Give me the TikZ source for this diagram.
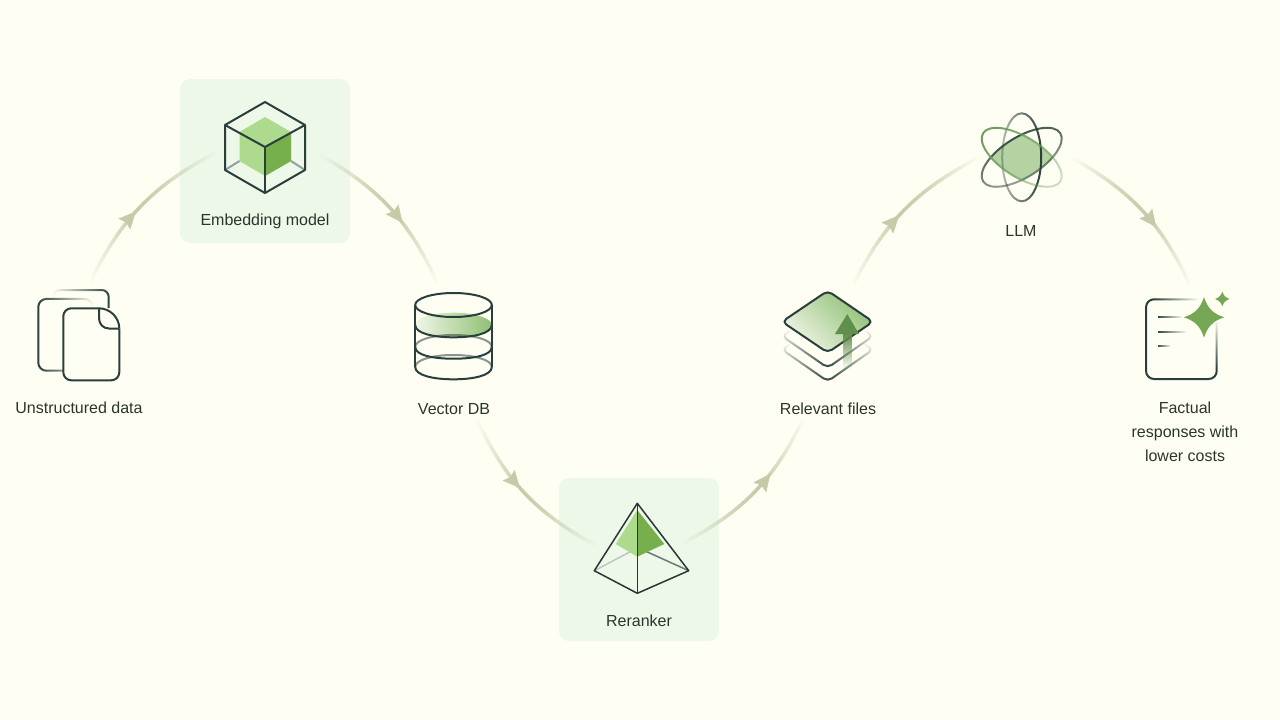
\documentclass[tikz,border=0pt]{standalone}
\usepackage{fontspec}
\setmainfont{Liberation Sans}
\usetikzlibrary{arrows.meta,fadings,decorations.markings}
\definecolor{Paper}{HTML}{FEFFF2}
\definecolor{CardC}{HTML}{EDF8E9}
\definecolor{Ink}{HTML}{2A352C}
\definecolor{LineC}{HTML}{2A3E3C}
\definecolor{FlowC}{HTML}{C6CAA8}
\definecolor{LeafL}{HTML}{ADDA8C}
\definecolor{LeafD}{HTML}{76AF4C}
\definecolor{LensC}{HTML}{B5D3A2}
\definecolor{OrbitC}{HTML}{6F9F5E}
\definecolor{PaleC}{HTML}{F1F6E8}
\definecolor{MossC}{HTML}{90C074}
\definecolor{BoltC}{HTML}{5F8F4C}
\definecolor{StarC}{HTML}{76A757}
\pgfdeclarehorizontalshading{flowpeakL}{100bp}{color(0bp)=(black); color(25bp)=(black); color(43bp)=(white); color(54bp)=(white!80!black); color(75bp)=(black); color(100bp)=(black)}
\pgfdeclarehorizontalshading{flowpeakR}{100bp}{color(0bp)=(black); color(25bp)=(black); color(46bp)=(white!80!black); color(57bp)=(white); color(75bp)=(black); color(100bp)=(black)}
\pgfdeclareverticalshading{docramp}{100bp}{color(0bp)=(white); color(54bp)=(white); color(76bp)=(black); color(100bp)=(black)}
\tikzfading[name=flowfadeL, shade, shading=flowpeakL]
\tikzfading[name=flowfadeR, shade, shading=flowpeakR]
\tikzfading[name=tailE, left color=transparent!0, middle color=transparent!0, right color=transparent!100]
\tikzfading[name=softW, left color=transparent!65, right color=transparent!0]
\tikzfading[name=gapM, left color=transparent!45, middle color=transparent!100, right color=transparent!45]
\tikzfading[name=docfade, shade, shading=docramp, shading angle=-45]
\begin{document}
\begin{tikzpicture}[
  x=1pt, y=-1pt,
  card/.style={fill=CardC, rounded corners=10pt, minimum width=#1, inner sep=0pt},
  lbl/.style={font=\fontsize{16}{24}\selectfont, text=Ink, align=center, inner sep=0pt},
  icon/.style={draw=LineC, line width=2pt, line join=round},
  thin icon/.style={draw=LineC!90!black, line width=1.5pt, line join=round},
  flowL/.style={FlowC, line width=3.5pt, path fading=flowfadeL},
  flowR/.style={FlowC, line width=3.5pt, path fading=flowfadeR},
  head/.style={decorate, decoration={markings, mark=at position #1 with {\arrow[FlowC]{Stealth[length=17pt, width=16pt, inset=2.5pt]}}}}
]
\fill[Paper] (0,0) rectangle (1280,720);
\useasboundingbox (0,0) rectangle (1280,720);

\node[card=170pt, minimum height=164pt] (embedcard) at (265,161) {};
\node[card=160pt, minimum height=163pt] (rerankcard) at (639,559.5) {};

\node[lbl] (data) at (79,408) {Unstructured data};
\node[lbl] (embed) at (265,221) {Embedding model};
\node[lbl] (vector) at (454,409) {Vector DB};
\node[lbl] (rerank) at (639,621) {Reranker};
\node[lbl] (files) at (828,409) {Relevant files};
\node[lbl] (llm) at (1021,231) {LLM};
\node[lbl] (facts) at (1185,432) {Factual\\responses with\\lower costs};

\coordinate (a1) at (90,282);
\coordinate (a2) at (215,153);
\coordinate (b1) at (320,155);
\coordinate (b2) at (437,282);
\coordinate (c1) at (477,420);
\coordinate (c2) at (595,545);
\coordinate (d1) at (683,543);
\coordinate (d2) at (803,420);
\coordinate (e1) at (853,285);
\coordinate (e2) at (978,158);
\coordinate (f1) at (1072,158);
\coordinate (f2) at (1190,285);

\draw[flowL] (a1) to[bend left=18] (a2);
\path[head=.46] (a1) to[bend left=18] (a2);
\draw[flowR] (b1) to[bend left=18] (b2);
\path[head=.61] (b1) to[bend left=18] (b2);
\draw[flowL] (c1) to[bend right=18] (c2);
\path[head=.46] (c1) to[bend right=18] (c2);
\draw[flowR] (d1) to[bend right=18] (d2);
\path[head=.64] (d1) to[bend right=18] (d2);
\draw[flowL] (e1) to[bend left=18] (e2);
\path[head=.46] (e1) to[bend left=18] (e2);
\draw[flowR] (f1) to[bend left=18] (f2);
\path[head=.62] (f1) to[bend left=18] (f2);

\draw[icon, rounded corners=7pt, path fading=tailE, fading angle=180] (53,308) -- (53,290) -- (108.7,290) -- (108.7,308);
\draw[icon, rounded corners=8pt, path fading=tailE] (63,370.7) -- (38.3,370.7) -- (38.3,299) -- (93,299) -- (93,310);
\draw[icon, rounded corners=8pt] (99,308.3) -- (63.3,308.3) -- (63.3,380.3) -- (119.3,380.3) -- (119.3,328.5);
\draw[icon] (99,308.3) .. controls (110,308.3) and (119.3,317.5) .. (119.3,328.5);
\draw[icon] (99,308.3) -- (99,318) .. controls (99,324) and (103,328.5) .. (109,328.5) -- (119.3,328.5);

\fill[LeafL] (265,117) -- (291,132) -- (291,161) -- (265,176) -- (239.5,161) -- (239.5,132) -- cycle;
\fill[LeafD] (265,147) -- (291,132) -- (291,161) -- (265,176) -- cycle;
\draw[icon, LineC!50] (225,170) -- (239.5,161);
\draw[icon, LineC!50] (305,170) -- (291,161);
\draw[icon] (265,102) -- (305,125) -- (305,170) -- (265,193) -- (225,170) -- (225,125) -- cycle;
\draw[icon] (225,125) -- (265,147) -- (305,125);
\draw[icon] (265,147) -- (265,193);

\coordinate (db1) at (453.5,305);
\coordinate (db2) at (453.5,325);
\coordinate (db3) at (453.5,347);
\coordinate (db4) at (453.5,367);
\shade[bottom color=PaleC, top color=MossC, shading angle=-90] (db2) ellipse [x radius=38.3, y radius=12.3];
\draw[icon] (415.2,325) .. controls (415.2,333) and (432,337.3) .. (453.5,337.3) .. controls (475,337.3) and (491.8,333) .. (491.8,325);
\draw[icon, path fading=gapM] (415.2,347) .. controls (415.2,340) and (432,335) .. (453.5,335) .. controls (475,335) and (491.8,340) .. (491.8,347);
\draw[icon] (415.2,347) .. controls (415.2,355) and (432,358.7) .. (453.5,358.7) .. controls (475,358.7) and (491.8,355) .. (491.8,347);
\draw[icon, path fading=gapM] (415.2,367) .. controls (415.2,360) and (432,355) .. (453.5,355) .. controls (475,355) and (491.8,360) .. (491.8,367);
\draw[icon] (415.2,367) .. controls (415.2,375) and (432,379.3) .. (453.5,379.3) .. controls (475,379.3) and (491.8,375) .. (491.8,367);
\draw[icon] (db1) ellipse [x radius=38.3, y radius=12];
\draw[icon] (415.2,305) -- (415.2,367);
\draw[icon] (491.8,305) -- (491.8,367);

\draw[thin icon, LineC!30] (594.3,570.7) -- (637.3,548);
\draw[thin icon, LineC!70] (688.7,570.7) -- (646.7,551.7);
\fill[LeafL] (637.3,510) -- (615.7,544) -- (637.3,556.7) -- cycle;
\fill[LeafD] (637.3,510) -- (664.3,544) -- (637.3,556.7) -- cycle;
\draw[thin icon] (637.3,503.3) -- (594.3,570.7) -- (637.3,593.3) -- (688.7,570.7) -- cycle;
\draw[thin icon] (637.3,503.3) -- (637.3,593.3);

\draw[icon, rounded corners=5pt, path fading=tailE, fading angle=90] (791,343.5) -- (782,349.5) -- (827.7,381.3) -- (873,349.5) -- (864,343.5);
\draw[icon, rounded corners=5pt, path fading=tailE, fading angle=90] (791,330) -- (782,336) -- (827.7,367.8) -- (873,336) -- (864,330);
\shadedraw[icon, rounded corners=5pt, bottom color=PaleC, top color=MossC, shading angle=-45] (782,321.7) -- (827.7,290.8) -- (873,321.7) -- (827.7,352.6) -- cycle;
\fill[BoltC, path fading=south] (843.3,333) rectangle (851.7,369);
\fill[BoltC] (847.3,314) -- (859,334) -- (835,334) -- cycle;

\coordinate (atom) at (1021.7,157.3);
\begin{scope}
\clip[rotate around={32:(atom)}] (atom) ellipse [x radius=45.5, y radius=21];
\fill[LensC, rotate around={-32:(atom)}] (atom) ellipse [x radius=45.5, y radius=21];
\end{scope}
\draw[icon, path fading=softW] (atom) ellipse [x radius=19.5, y radius=44];
\draw[icon, path fading=softW, fading angle=120, rotate around={32:(atom)}] (atom) ellipse [x radius=45.5, y radius=20];
\draw[icon, draw=OrbitC, path fading=softW, fading angle=150, rotate around={-32:(atom)}] (atom) ellipse [x radius=45.5, y radius=20];

\draw[icon, rounded corners=8pt, path fading=docfade] (1216.7,322) -- (1216.7,379) -- (1146,379) -- (1146,299.3) -- (1200,299.3);
\draw[icon, path fading=east] (1157.7,317.3) -- (1182,317.3);
\draw[icon, path fading=east] (1157.7,331.7) -- (1186,331.7);
\draw[icon, path fading=east] (1157.7,346.3) -- (1170,346.3);
\fill[StarC] (1204,297) .. controls (1207.5,308) and (1213,313.8) .. (1224.3,317.3) .. controls (1213,320.8) and (1207.5,326.6) .. (1204,337.6) .. controls (1200.5,326.6) and (1195,320.8) .. (1183.7,317.3) .. controls (1195,313.8) and (1200.5,308) .. (1204,297) -- cycle;
\fill[StarC] (1222.3,291.7) .. controls (1223.7,295.7) and (1225.6,297.6) .. (1229.6,299) .. controls (1225.6,300.4) and (1223.7,302.3) .. (1222.3,306.3) .. controls (1220.9,302.3) and (1219,300.4) .. (1215,299) .. controls (1219,297.6) and (1220.9,295.7) .. (1222.3,291.7) -- cycle;
\end{tikzpicture}
\end{document}
